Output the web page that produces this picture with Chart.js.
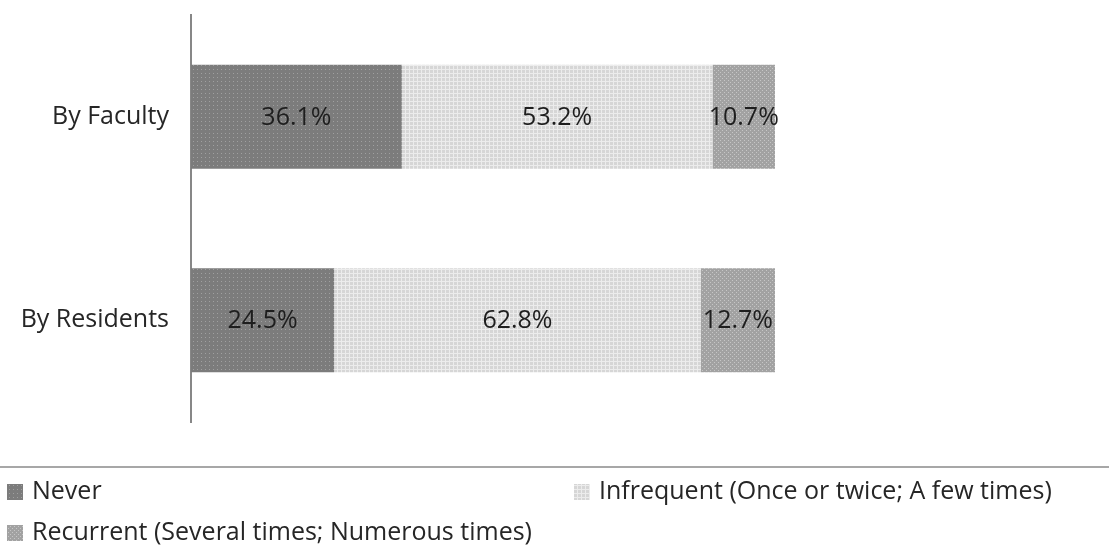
<!DOCTYPE html>
<html lang="en">
<head>
    <meta charset="UTF-8">
    <title>Frequency by Faculty and Residents</title>
    <script src="https://cdn.jsdelivr.net/npm/chart.js"></script>
    <style>
        html, body { margin: 0; padding: 0; background: #fff; }
        .chart-container { width: 1109px; height: 554px; position: relative; }
    </style>
</head>
<body>
    <div class="chart-container">
        <canvas id="freqChart"></canvas>
    </div>

    <script>
        // data
        const categories = ['By Faculty', 'By Residents'];
        const seriesNames = ['Never', 'Infrequent (Once or twice; A few times)', 'Recurrent (Several times; Numerous times)'];
        const neverValues = [36.1, 24.5];
        const infrequentValues = [53.2, 62.8];
        const recurrentValues = [10.7, 12.7];

        const FONT = "'Open Sans', sans-serif";

        // small texture tiles, like the printed hatch fills
        function makePattern(base, dot, kind) {
            const c = document.createElement('canvas');
            c.width = 4; c.height = 4;
            const g = c.getContext('2d');
            g.fillStyle = base;
            g.fillRect(0, 0, 4, 4);
            g.fillStyle = dot;
            if (kind === 'dots') {
                g.fillRect(1, 1, 1, 1);
            } else if (kind === 'grid') {
                g.fillRect(0, 1, 4, 1);
                g.fillRect(1, 0, 1, 4);
            } else {
                g.fillRect(0, 0, 1, 1);
                g.fillRect(2, 2, 1, 1);
            }
            return g.createPattern(c, 'repeat');
        }

        const fills = [
            makePattern('#7c7c7c', '#a0a0a0', 'dots'),
            makePattern('#d6d6d6', '#ececec', 'grid'),
            makePattern('#a2a2a2', '#c6c6c6', 'check')
        ];

        // values in the middle of each segment
        const segmentLabels = {
            id: 'segmentLabels',
            afterDatasetsDraw(chart) {
                const ctx = chart.ctx;
                ctx.save();
                ctx.font = '25px ' + FONT;
                ctx.fillStyle = '#1e1e1e';
                ctx.textAlign = 'center';
                ctx.textBaseline = 'middle';
                chart.data.datasets.forEach((ds, i) => {
                    chart.getDatasetMeta(i).data.forEach((bar, j) => {
                        const cx = (bar.base + bar.x) / 2;
                        ctx.fillText(ds.data[j].toFixed(1) + '%', cx, bar.y + 1);
                    });
                });
                ctx.restore();
            }
        };

        // legend under a rule, two columns
        const bottomLegend = {
            id: 'bottomLegend',
            afterDraw(chart) {
                const ctx = chart.ctx;
                ctx.save();
                ctx.strokeStyle = '#8a8a8a';
                ctx.lineWidth = 1.5;
                ctx.beginPath();
                ctx.moveTo(0, 467);
                ctx.lineTo(chart.width, 467);
                ctx.stroke();

                const spots = [[7, 492], [574, 492], [7, 533]];
                ctx.font = '25px ' + FONT;
                ctx.textBaseline = 'middle';
                ctx.textAlign = 'left';
                chart.data.datasets.forEach((ds, i) => {
                    const [x, y] = spots[i];
                    ctx.fillStyle = ds.backgroundColor;
                    ctx.fillRect(x, y - 8, 16, 16);
                    ctx.fillStyle = '#262626';
                    ctx.fillText(ds.label, x + 25, y);
                });
                ctx.restore();
            }
        };

        const ctx = document.getElementById('freqChart').getContext('2d');
        new Chart(ctx, {
            type: 'bar',
            data: {
                labels: categories,
                datasets: [
                    { label: seriesNames[0], data: neverValues, backgroundColor: fills[0] },
                    { label: seriesNames[1], data: infrequentValues, backgroundColor: fills[1] },
                    { label: seriesNames[2], data: recurrentValues, backgroundColor: fills[2] }
                ]
            },
            options: {
                indexAxis: 'y',
                responsive: true,
                maintainAspectRatio: false,
                animation: false,
                layout: { padding: { left: 0, right: 334, top: 15, bottom: 132 } },
                datasets: { bar: { barPercentage: 0.51, categoryPercentage: 1 } },
                plugins: {
                    legend: { display: false },
                    tooltip: { enabled: false }
                },
                scales: {
                    x: { stacked: true, min: 0, max: 100, display: false },
                    y: {
                        stacked: true,
                        grid: { display: false, drawTicks: false },
                        border: { display: true, color: '#878787', width: 2 },
                        ticks: { color: '#262626', padding: 22, font: { family: FONT, size: 25 } },
                        afterFit(scale) {
                            scale.width = 191;
                            scale.paddingTop = 0;
                            scale.paddingBottom = 0;
                        }
                    }
                }
            },
            plugins: [segmentLabels, bottomLegend]
        });
    </script>
</body>
</html>
